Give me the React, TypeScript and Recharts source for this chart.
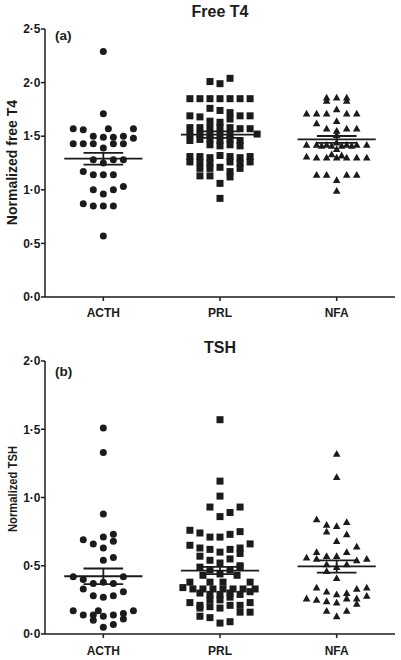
import {
  ScatterChart,
  Scatter,
  XAxis,
  YAxis,
  ReferenceLine,
} from "recharts";

// categories along the x axis
const groups = ["ACTH", "PRL", "NFA"];

// [column slot, value]; slot = horizontal jitter column
const t4Acth = [
  [0, 2.29], [0, 1.71],
  [-3, 1.57], [-2, 1.56], [0.5, 1.57], [3, 1.57],
  [-1, 1.5], [0, 1.49], [1, 1.49], [2, 1.5], [3, 1.48],
  [-3, 1.43], [-2, 1.43], [-1, 1.43], [1, 1.43], [2, 1.43],
  [0, 1.39],
  [-1, 1.28], [0, 1.25], [1, 1.28], [2, 1.28],
  [-2, 1.17], [-1, 1.14], [0, 1.14], [1, 1.14],
  [-1, 1.0], [0, 0.96], [1, 1.0], [2, 1.03],
  [-2, 0.87], [-1, 0.85], [0, 0.85], [1, 0.85],
  [0, 0.57],
];

const t4Prl = [
  [1, 2.04], [-1, 2.01], [0, 1.99],
  [-3, 1.85], [-2, 1.85], [-1, 1.85], [0, 1.85], [1, 1.85], [2, 1.85], [3, 1.85],
  [-1, 1.76], [0, 1.74], [1, 1.72],
  [-3, 1.69], [-2, 1.68], [2, 1.69], [3, 1.69], [1, 1.66],
  [-1, 1.64], [0, 1.63],
  [-3, 1.58], [-2, 1.58], [-1, 1.58], [0, 1.58], [1, 1.58], [2, 1.57], [3, 1.57],
  [-3, 1.52], [-2, 1.52], [-1, 1.52], [0, 1.52], [1, 1.51], [3.7, 1.52],
  [-3, 1.46], [-2, 1.47], [-1, 1.47], [0, 1.46], [1, 1.47], [2, 1.46],
  [-1, 1.42], [0, 1.41], [1, 1.42], [2, 1.41],
  [-3, 1.31], [-2, 1.31], [-1, 1.3], [0, 1.32], [1, 1.31], [2, 1.3], [3, 1.31],
  [-3, 1.26], [-2, 1.26], [-1, 1.25], [1, 1.26], [2, 1.25], [3, 1.26],
  [-2, 1.2], [-1, 1.2], [0, 1.21], [2, 1.2],
  [1, 1.17], [1, 1.12],
  [-2, 1.13], [-1, 1.13],
  [0, 1.06], [0, 0.92],
];

const t4Nfa = [
  [-1, 1.86], [-1, 1.83], [0, 1.86], [1, 1.86], [1, 1.83],
  [-3, 1.71], [-2, 1.71], [-1, 1.71], [0, 1.75], [1, 1.71], [2, 1.71],
  [-2, 1.62], [0, 1.64],
  [-1, 1.57], [0, 1.55], [1, 1.57], [2, 1.57],
  [0, 1.51],
  [-3, 1.42], [-2, 1.42], [-1, 1.42], [0, 1.44], [1, 1.42], [2, 1.42], [3, 1.42],
  [-1.5, 1.41], [1.5, 1.41], [-0.5, 1.41], [0.5, 1.41],
  [0, 1.38],
  [-3, 1.31], [-2, 1.3], [-1, 1.3], [0, 1.3], [1, 1.3], [2, 1.3], [3, 1.3],
  [-0.5, 1.33], [0.5, 1.32],
  [-2, 1.14], [-1, 1.14], [1, 1.14], [2, 1.14],
  [0, 1.09], [0, 0.99],
];

const tshActh = [
  [0, 1.51], [0, 1.33], [0, 0.88],
  [1, 0.73], [0, 0.71],
  [-2, 0.69], [-1, 0.66], [1, 0.68],
  [0, 0.63],
  [0, 0.54], [1, 0.56],
  [-3, 0.42], [-2, 0.4], [2, 0.42],
  [-1, 0.37], [0, 0.38], [1, 0.37],
  [-2, 0.33], [2, 0.31],
  [-1, 0.28], [0, 0.27], [1, 0.28],
  [-3, 0.17], [-0.5, 0.17], [3, 0.17],
  [-2, 0.14], [-1, 0.14], [0, 0.13], [1, 0.14], [2, 0.15],
  [-1, 0.1], [2, 0.11], [1, 0.07], [0, 0.05],
];

const tshPrl = [
  [0, 1.57], [0, 1.12], [0, 1.01],
  [-1, 0.93], [2, 0.93], [1, 0.89], [0, 0.86],
  [-3, 0.76], [-2, 0.74], [-1, 0.71], [0, 0.71], [1, 0.73], [2, 0.75],
  [-3, 0.65], [-2, 0.63], [-1, 0.62], [0, 0.6], [1, 0.62], [2, 0.63], [2, 0.59], [3, 0.66],
  [-2, 0.57], [-1, 0.54], [0, 0.52], [1, 0.55], [2, 0.5],
  [-2, 0.49], [-1, 0.47], [1, 0.47], [2, 0.49],
  [-1.7, 0.43], [0, 0.44], [1.7, 0.43],
  [-3, 0.38], [-1, 0.38], [0.3, 0.38], [3, 0.38],
  [-3.7, 0.34], [-2.7, 0.33], [-1.7, 0.33], [-0.7, 0.33], [0.3, 0.33], [1.3, 0.33], [2.3, 0.33], [3.5, 0.33],
  [-2, 0.3], [-1, 0.29], [0, 0.29], [1, 0.3], [2, 0.29], [3, 0.31],
  [-1, 0.25], [0, 0.25], [1, 0.27],
  [-3, 0.23], [-2, 0.21], [-2, 0.19], [-1, 0.2], [0, 0.19], [1, 0.21], [2, 0.21], [3, 0.23],
  [2, 0.16], [3, 0.16], [-2, 0.13],
  [-1, 0.12], [0, 0.08], [1, 0.09],
];

const tshNfa = [
  [0, 1.32], [0, 1.15],
  [-2, 0.84], [-1, 0.8], [1, 0.82],
  [-1, 0.75], [0, 0.79], [1, 0.73],
  [0, 0.68], [2, 0.64],
  [-2, 0.6], [1, 0.6],
  [-3, 0.56], [-1, 0.57], [0, 0.57],
  [-2, 0.55], [2, 0.54], [3, 0.55],
  [-1, 0.51], [0, 0.49], [1, 0.51],
  [-1, 0.46], [0, 0.41],
  [-2, 0.34], [2, 0.33], [3, 0.34],
  [-3, 0.26], [-2, 0.25], [-1, 0.31], [0, 0.29], [1, 0.3], [2, 0.26], [3, 0.28],
  [-1, 0.24], [0, 0.23], [1, 0.26], [2, 0.22],
  [-1, 0.17], [1, 0.17],
  [0, 0.13],
];

// mean and SEM per group, as drawn
const t4Mean = [1.29, 1.515, 1.47];
const t4Sem = [0.055, 0.03, 0.032];
const tshMean = [0.423, 0.465, 0.495];
const tshSem = [0.057, 0.027, 0.045];

const t4Ticks = [0, 0.5, 1, 1.5, 2, 2.5];
const tshTicks = [0, 0.5, 1, 1.5, 2];

const INK = "#1b1b1b";
const FONT = "'Liberation Sans', Arial, sans-serif";
const SLOT = 0.086; // one jitter column, in category units
const MEAN_HALF = 0.335;
const SEM_HALF = 0.17;

const toPoints = (rows: number[][], g: number) =>
  rows.map(([s, v]) => ({ x: g + 0.5 + s * SLOT, y: v }));

const dot = (p: any) => <circle cx={p.cx} cy={p.cy} r={3.5} fill={INK} />;
const square = (p: any) => (
  <rect x={p.cx - 3.5} y={p.cy - 3.5} width={7} height={7} fill={INK} />
);
const triangle = (p: any) => (
  <polygon
    points={`${p.cx},${p.cy - 3.9} ${p.cx + 3.8},${p.cy + 2.9} ${p.cx - 3.8},${p.cy + 2.9}`}
    fill={INK}
  />
);
const shapes = [dot, square, triangle];

const fmt = (v: number) => v.toFixed(1).replace(".", "·");

interface PanelProps {
  series: number[][][];
  mean: number[];
  sem: number[];
  ticks: number[];
  top: number;
  margin: { top: number; right: number; bottom: number; left: number };
  xHeight: number;
  xTickMargin: number;
}

function Panel({ series, mean, sem, ticks, top, margin, xHeight, xTickMargin }: PanelProps) {
  const line = { stroke: INK, strokeWidth: 1.8 };
  return (
    <div style={{ position: "absolute", left: 0, top }}>
      <ScatterChart width={401} height={330} margin={margin}>
        <XAxis
          type="number"
          dataKey="x"
          domain={[0, 3]}
          ticks={[0.5, 1.5, 2.5]}
          tickFormatter={(v: number) => groups[Math.floor(v)]}
          height={xHeight}
          tickSize={4}
          tickMargin={xTickMargin}
          axisLine={{ stroke: INK, strokeWidth: 1.5 }}
          tickLine={{ stroke: INK, strokeWidth: 1.5 }}
          tick={{ fill: INK, fontSize: 12, fontWeight: 700, fontFamily: FONT }}
        />
        <YAxis
          type="number"
          dataKey="y"
          domain={[ticks[0], ticks[ticks.length - 1]]}
          ticks={ticks}
          tickFormatter={fmt}
          width={45}
          tickSize={4}
          tickMargin={0.5}
          axisLine={{ stroke: INK, strokeWidth: 1.5 }}
          tickLine={{ stroke: INK, strokeWidth: 1.5 }}
          tick={{ fill: INK, fontSize: 12, fontWeight: 700, fontFamily: FONT }}
        />
        {series.map((rows, g) => (
          <Scatter
            key={groups[g]}
            data={toPoints(rows, g)}
            shape={shapes[g]}
            isAnimationActive={false}
          />
        ))}
        {mean.map((m, g) => (
          <ReferenceLine
            key={`m${g}`}
            segment={[{ x: g + 0.5 - MEAN_HALF, y: m }, { x: g + 0.5 + MEAN_HALF, y: m }]}
            {...line}
          />
        ))}
        {mean.map((m, g) => (
          <ReferenceLine
            key={`u${g}`}
            segment={[{ x: g + 0.5 - SEM_HALF, y: m + sem[g] }, { x: g + 0.5 + SEM_HALF, y: m + sem[g] }]}
            {...line}
          />
        ))}
        {mean.map((m, g) => (
          <ReferenceLine
            key={`l${g}`}
            segment={[{ x: g + 0.5 - SEM_HALF, y: m - sem[g] }, { x: g + 0.5 + SEM_HALF, y: m - sem[g] }]}
            {...line}
          />
        ))}
        {mean.map((m, g) => (
          <ReferenceLine
            key={`v${g}`}
            segment={[{ x: g + 0.5, y: m - sem[g] }, { x: g + 0.5, y: m + sem[g] }]}
            {...line}
          />
        ))}
      </ScatterChart>
    </div>
  );
}

export default function App() {
  const text = { fill: INK, fontFamily: FONT, fontWeight: 700 };
  return (
    <div style={{ position: "absolute", left: 0, top: 0, width: 401, height: 660, background: "#fff" }}>
      <Panel
        series={[t4Acth, t4Prl, t4Nfa]}
        mean={t4Mean}
        sem={t4Sem}
        ticks={t4Ticks}
        top={0}
        margin={{ top: 29, right: 6, bottom: 3, left: 0 }}
        xHeight={30}
        xTickMargin={7}
      />
      <Panel
        series={[tshActh, tshPrl, tshNfa]}
        mean={tshMean}
        sem={tshSem}
        ticks={tshTicks}
        top={330}
        margin={{ top: 31, right: 6, bottom: 2, left: 0 }}
        xHeight={24}
        xTickMargin={8.5}
      />
      <svg
        width={401}
        height={660}
        style={{ position: "absolute", left: 0, top: 0, pointerEvents: "none" }}
      >
        <text x={220} y={17} textAnchor="middle" fontSize={16} {...text}>Free T4</text>
        <text x={55} y={40} fontSize={13.5} {...text}>(a)</text>
        <text
          x={0}
          y={0}
          fontSize={14}
          textAnchor="middle"
          transform="translate(17,162.5) rotate(-90)"
          {...text}
        >
          Normalized free T4
        </text>
        <text x={220} y={353} textAnchor="middle" fontSize={16} {...text}>TSH</text>
        <text x={55} y={376} fontSize={13.5} {...text}>(b)</text>
        <text
          x={0}
          y={0}
          fontSize={13.5}
          textAnchor="middle"
          textLength={86}
          lengthAdjust="spacingAndGlyphs"
          transform="translate(16.5,489) rotate(-90)"
          {...text}
        >
          Normalized TSH
        </text>
      </svg>
    </div>
  );
}
